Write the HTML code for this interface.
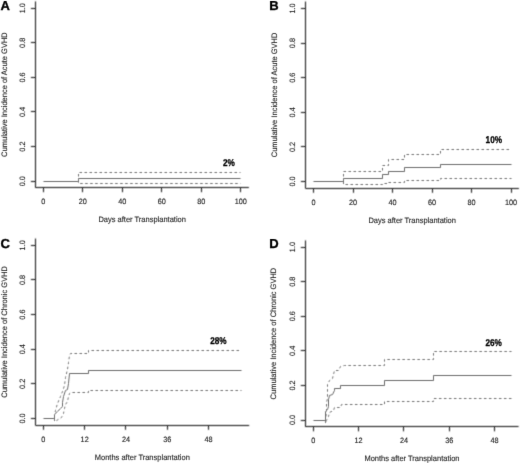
<!DOCTYPE html>
<html><head><meta charset="utf-8"><style>
html,body{margin:0;padding:0;background:#fff;}
body{width:520px;height:463px;overflow:hidden;}
svg{display:block;}
#wrap{width:520px;height:463px;overflow:hidden;}
text{font-family:"Liberation Sans", sans-serif;text-rendering:geometricPrecision;}
</style></head><body><div id="wrap">
<svg width="520" height="463" viewBox="0 0 520 463" font-family='"Liberation Sans", sans-serif' dominant-baseline="central">
<defs>
<filter id="fl" filterUnits="userSpaceOnUse" x="0" y="0" width="520" height="463"><feConvolveMatrix order="3" kernelMatrix="1 2 1 2 8 2 1 2 1" divisor="20.0" edgeMode="none" preserveAlpha="false"/></filter>
<filter id="fc" filterUnits="userSpaceOnUse" x="0" y="0" width="520" height="463"><feConvolveMatrix order="3" kernelMatrix="0 1 0 1 4 1 0 1 0" divisor="8.0" edgeMode="none" preserveAlpha="false"/></filter>
<filter id="ft" filterUnits="userSpaceOnUse" x="0" y="0" width="520" height="463"><feConvolveMatrix order="3" kernelMatrix="0 1 0 1 10 1 0 1 0" divisor="14.0" edgeMode="none" preserveAlpha="false"/></filter>
</defs>
<rect width="520" height="463" fill="#fff"/>
<g filter="url(#fl)">
<line x1="35.5" y1="1.4" x2="35.5" y2="187.7" stroke="#141414" stroke-width="1"/>
<line x1="35.4" y1="187.5" x2="248.9" y2="187.5" stroke="#141414" stroke-width="1"/>
<line x1="30.9" y1="181.5" x2="35.4" y2="181.5" stroke="#141414" stroke-width="1"/>
<line x1="30.9" y1="146.5" x2="35.4" y2="146.5" stroke="#141414" stroke-width="1"/>
<line x1="30.9" y1="111.5" x2="35.4" y2="111.5" stroke="#141414" stroke-width="1"/>
<line x1="30.9" y1="77.5" x2="35.4" y2="77.5" stroke="#141414" stroke-width="1"/>
<line x1="30.9" y1="42.5" x2="35.4" y2="42.5" stroke="#141414" stroke-width="1"/>
<line x1="30.9" y1="8.5" x2="35.4" y2="8.5" stroke="#141414" stroke-width="1"/>
<line x1="43.5" y1="187.7" x2="43.5" y2="192.2" stroke="#141414" stroke-width="1"/>
<line x1="82.5" y1="187.7" x2="82.5" y2="192.2" stroke="#141414" stroke-width="1"/>
<line x1="122.5" y1="187.7" x2="122.5" y2="192.2" stroke="#141414" stroke-width="1"/>
<line x1="161.5" y1="187.7" x2="161.5" y2="192.2" stroke="#141414" stroke-width="1"/>
<line x1="201.5" y1="187.7" x2="201.5" y2="192.2" stroke="#141414" stroke-width="1"/>
<line x1="240.5" y1="187.7" x2="240.5" y2="192.2" stroke="#141414" stroke-width="1"/>
<line x1="305.5" y1="1.5" x2="305.5" y2="188.3" stroke="#141414" stroke-width="1"/>
<line x1="305.4" y1="188.5" x2="518.9" y2="188.5" stroke="#141414" stroke-width="1"/>
<line x1="300.9" y1="181.5" x2="305.4" y2="181.5" stroke="#141414" stroke-width="1"/>
<line x1="300.9" y1="146.5" x2="305.4" y2="146.5" stroke="#141414" stroke-width="1"/>
<line x1="300.9" y1="112.5" x2="305.4" y2="112.5" stroke="#141414" stroke-width="1"/>
<line x1="300.9" y1="77.5" x2="305.4" y2="77.5" stroke="#141414" stroke-width="1"/>
<line x1="300.9" y1="43.5" x2="305.4" y2="43.5" stroke="#141414" stroke-width="1"/>
<line x1="300.9" y1="8.5" x2="305.4" y2="8.5" stroke="#141414" stroke-width="1"/>
<line x1="313.5" y1="188.3" x2="313.5" y2="192.8" stroke="#141414" stroke-width="1"/>
<line x1="353.5" y1="188.3" x2="353.5" y2="192.8" stroke="#141414" stroke-width="1"/>
<line x1="392.5" y1="188.3" x2="392.5" y2="192.8" stroke="#141414" stroke-width="1"/>
<line x1="432.5" y1="188.3" x2="432.5" y2="192.8" stroke="#141414" stroke-width="1"/>
<line x1="471.5" y1="188.3" x2="471.5" y2="192.8" stroke="#141414" stroke-width="1"/>
<line x1="511.5" y1="188.3" x2="511.5" y2="192.8" stroke="#141414" stroke-width="1"/>
<line x1="35.5" y1="238.5" x2="35.5" y2="425.3" stroke="#141414" stroke-width="1"/>
<line x1="35.4" y1="425.5" x2="249.2" y2="425.5" stroke="#141414" stroke-width="1"/>
<line x1="30.9" y1="418.5" x2="35.4" y2="418.5" stroke="#141414" stroke-width="1"/>
<line x1="30.9" y1="383.5" x2="35.4" y2="383.5" stroke="#141414" stroke-width="1"/>
<line x1="30.9" y1="349.5" x2="35.4" y2="349.5" stroke="#141414" stroke-width="1"/>
<line x1="30.9" y1="314.5" x2="35.4" y2="314.5" stroke="#141414" stroke-width="1"/>
<line x1="30.9" y1="279.5" x2="35.4" y2="279.5" stroke="#141414" stroke-width="1"/>
<line x1="30.9" y1="245.5" x2="35.4" y2="245.5" stroke="#141414" stroke-width="1"/>
<line x1="43.5" y1="425.3" x2="43.5" y2="429.8" stroke="#141414" stroke-width="1"/>
<line x1="84.5" y1="425.3" x2="84.5" y2="429.8" stroke="#141414" stroke-width="1"/>
<line x1="125.5" y1="425.3" x2="125.5" y2="429.8" stroke="#141414" stroke-width="1"/>
<line x1="167.5" y1="425.3" x2="167.5" y2="429.8" stroke="#141414" stroke-width="1"/>
<line x1="208.5" y1="425.3" x2="208.5" y2="429.8" stroke="#141414" stroke-width="1"/>
<line x1="305.5" y1="240.4" x2="305.5" y2="426.8" stroke="#141414" stroke-width="1"/>
<line x1="305.3" y1="426.5" x2="518.6" y2="426.5" stroke="#141414" stroke-width="1"/>
<line x1="300.8" y1="420.5" x2="305.3" y2="420.5" stroke="#141414" stroke-width="1"/>
<line x1="300.8" y1="385.5" x2="305.3" y2="385.5" stroke="#141414" stroke-width="1"/>
<line x1="300.8" y1="350.5" x2="305.3" y2="350.5" stroke="#141414" stroke-width="1"/>
<line x1="300.8" y1="316.5" x2="305.3" y2="316.5" stroke="#141414" stroke-width="1"/>
<line x1="300.8" y1="281.5" x2="305.3" y2="281.5" stroke="#141414" stroke-width="1"/>
<line x1="300.8" y1="247.5" x2="305.3" y2="247.5" stroke="#141414" stroke-width="1"/>
<line x1="313.5" y1="426.8" x2="313.5" y2="431.3" stroke="#141414" stroke-width="1"/>
<line x1="358.5" y1="426.8" x2="358.5" y2="431.3" stroke="#141414" stroke-width="1"/>
<line x1="403.5" y1="426.8" x2="403.5" y2="431.3" stroke="#141414" stroke-width="1"/>
<line x1="449.5" y1="426.8" x2="449.5" y2="431.3" stroke="#141414" stroke-width="1"/>
<line x1="494.5" y1="426.8" x2="494.5" y2="431.3" stroke="#141414" stroke-width="1"/>
</g>
<g filter="url(#fc)">
<polyline points="43.50,181.50 78.50,181.50 78.50,178.50 240.50,178.50" fill="none" stroke="#6a6a6a" stroke-width="1"/>
<polyline points="78.50,181.50 78.50,172.50 240.50,172.50" fill="none" stroke="#727272" stroke-width="1" stroke-dasharray="2.5 2.5"/>
<polyline points="78.50,181.50 78.50,183.50 240.50,183.50" fill="none" stroke="#727272" stroke-width="1" stroke-dasharray="2.5 2.5" stroke-dashoffset="1.3"/>
<polyline points="313.50,181.50 343.50,181.50 343.50,178.50 382.50,178.50 382.50,174.50 388.50,174.50 388.50,171.50 404.50,171.50 404.50,167.50 440.50,167.50 440.50,164.50 511.50,164.50" fill="none" stroke="#6a6a6a" stroke-width="1"/>
<polyline points="343.50,181.50 343.50,181.50 343.50,171.50 382.50,171.50 382.50,165.50 388.50,165.50 388.50,159.50 404.50,159.50 404.50,154.50 440.50,154.50 440.50,149.50 511.50,149.50" fill="none" stroke="#727272" stroke-width="1" stroke-dasharray="2.5 2.5"/>
<polyline points="343.50,181.50 343.50,181.50 343.50,184.50 382.50,184.50 382.50,183.50 388.50,183.50 388.50,182.50 404.50,182.50 404.50,180.50 440.50,180.50 440.50,178.50 511.50,178.50" fill="none" stroke="#727272" stroke-width="1" stroke-dasharray="2.5 2.5"/>
<polyline points="43.50,418.50 54.50,418.50 54.50,414.50 57.50,411.50 60.50,408.50 62.50,406.50 62.50,402.50 63.50,396.50 65.50,390.50 67.50,389.50 68.50,383.50 69.50,373.50 88.50,373.50 88.50,370.50 241.50,370.50" fill="none" stroke="#6a6a6a" stroke-width="1"/>
<polyline points="54.50,418.50 54.50,415.50 55.50,410.50 57.50,403.50 60.50,396.50 62.50,391.50 64.50,385.50 65.50,377.50 67.50,369.50 68.50,362.50 69.50,355.50 70.50,353.50 88.50,353.50 88.50,350.50 241.50,350.50" fill="none" stroke="#727272" stroke-width="1" stroke-dasharray="2.5 2.5" stroke-dashoffset="3.6"/>
<polyline points="54.50,418.50 54.50,421.50 56.50,420.50 61.50,417.50 63.50,413.50 64.50,408.50 65.50,404.50 67.50,401.50 68.50,396.50 69.50,393.50 70.50,392.50 88.50,392.50 88.50,390.50 241.50,390.50" fill="none" stroke="#727272" stroke-width="1" stroke-dasharray="2.5 2.5"/>
<polyline points="313.50,420.50 325.50,420.50 325.50,411.50 327.50,409.50 328.50,406.50 328.50,399.50 329.50,395.50 332.50,394.50 334.50,390.50 334.50,388.50 340.50,388.50 340.50,385.50 384.50,385.50 384.50,380.50 433.50,380.50 433.50,375.50 511.50,375.50" fill="none" stroke="#6a6a6a" stroke-width="1"/>
<polyline points="325.50,420.50 326.50,411.50 326.50,402.50 327.50,398.50 327.50,393.50 327.50,384.50 329.50,380.50 332.50,378.50 333.50,374.50 334.50,370.50 338.50,370.50 340.50,366.50 344.50,365.50 384.50,365.50 384.50,359.50 433.50,359.50 433.50,351.50 511.50,351.50" fill="none" stroke="#727272" stroke-width="1" stroke-dasharray="2.5 2.5" stroke-dashoffset="1.0"/>
<polyline points="325.50,420.50 325.50,423.50 326.50,420.50 328.50,416.50 329.50,412.50 333.50,410.50 334.50,407.50 340.50,407.50 341.50,404.50 384.50,404.50 384.50,401.50 433.50,401.50 433.50,398.50 511.50,398.50" fill="none" stroke="#727272" stroke-width="1" stroke-dasharray="2.5 2.5"/>
</g>
<g filter="url(#ft)">
<text transform="translate(22.10 181.20) rotate(-90) scale(1 1.06)" font-size="7.3" text-anchor="middle" font-weight="normal" fill="#262626" stroke="#262626" stroke-width="0.12">0.0</text>
<text transform="translate(22.10 146.60) rotate(-90) scale(1 1.06)" font-size="7.3" text-anchor="middle" font-weight="normal" fill="#262626" stroke="#262626" stroke-width="0.12">0.2</text>
<text transform="translate(22.10 112.00) rotate(-90) scale(1 1.06)" font-size="7.3" text-anchor="middle" font-weight="normal" fill="#262626" stroke="#262626" stroke-width="0.12">0.4</text>
<text transform="translate(22.10 77.40) rotate(-90) scale(1 1.06)" font-size="7.3" text-anchor="middle" font-weight="normal" fill="#262626" stroke="#262626" stroke-width="0.12">0.6</text>
<text transform="translate(22.10 42.80) rotate(-90) scale(1 1.06)" font-size="7.3" text-anchor="middle" font-weight="normal" fill="#262626" stroke="#262626" stroke-width="0.12">0.8</text>
<text transform="translate(22.10 8.20) rotate(-90) scale(1 1.06)" font-size="7.3" text-anchor="middle" font-weight="normal" fill="#262626" stroke="#262626" stroke-width="0.12">1.0</text>
<text transform="translate(43.30 201.30) scale(1 1.06)" font-size="7.3" text-anchor="middle" font-weight="normal" fill="#262626" stroke="#262626" stroke-width="0.12">0</text>
<text transform="translate(82.80 201.30) scale(1 1.06)" font-size="7.3" text-anchor="middle" font-weight="normal" fill="#262626" stroke="#262626" stroke-width="0.12">20</text>
<text transform="translate(122.30 201.30) scale(1 1.06)" font-size="7.3" text-anchor="middle" font-weight="normal" fill="#262626" stroke="#262626" stroke-width="0.12">40</text>
<text transform="translate(161.80 201.30) scale(1 1.06)" font-size="7.3" text-anchor="middle" font-weight="normal" fill="#262626" stroke="#262626" stroke-width="0.12">60</text>
<text transform="translate(201.30 201.30) scale(1 1.06)" font-size="7.3" text-anchor="middle" font-weight="normal" fill="#262626" stroke="#262626" stroke-width="0.12">80</text>
<text transform="translate(240.80 201.30) scale(1 1.06)" font-size="7.3" text-anchor="middle" font-weight="normal" fill="#262626" stroke="#262626" stroke-width="0.12">100</text>
<text transform="translate(142.15 219.70) scale(1 1.06)" font-size="7.5" text-anchor="middle" font-weight="normal" fill="#262626" stroke="#262626" stroke-width="0.12">Days after Transplantation</text>
<text transform="translate(3.90 94.55) rotate(-90) scale(1 1.06)" font-size="7.5" text-anchor="middle" font-weight="normal" fill="#262626" stroke="#262626" stroke-width="0.12">Cumulative Incidence of Acute GVHD</text>
<text x="0.6" y="10.1" font-size="13.0" font-weight="bold" fill="#000" stroke="#000" stroke-width="0.35" dominant-baseline="alphabetic">A</text>
<text transform="translate(228.80 163.00) scale(1 1.2)" font-size="8.2" text-anchor="middle" font-weight="bold" fill="#000" stroke="#000" stroke-width="0.25">2%</text>
<text transform="translate(292.10 181.50) rotate(-90) scale(1 1.06)" font-size="7.3" text-anchor="middle" font-weight="normal" fill="#262626" stroke="#262626" stroke-width="0.12">0.0</text>
<text transform="translate(292.10 146.90) rotate(-90) scale(1 1.06)" font-size="7.3" text-anchor="middle" font-weight="normal" fill="#262626" stroke="#262626" stroke-width="0.12">0.2</text>
<text transform="translate(292.10 112.30) rotate(-90) scale(1 1.06)" font-size="7.3" text-anchor="middle" font-weight="normal" fill="#262626" stroke="#262626" stroke-width="0.12">0.4</text>
<text transform="translate(292.10 77.70) rotate(-90) scale(1 1.06)" font-size="7.3" text-anchor="middle" font-weight="normal" fill="#262626" stroke="#262626" stroke-width="0.12">0.6</text>
<text transform="translate(292.10 43.10) rotate(-90) scale(1 1.06)" font-size="7.3" text-anchor="middle" font-weight="normal" fill="#262626" stroke="#262626" stroke-width="0.12">0.8</text>
<text transform="translate(292.10 8.50) rotate(-90) scale(1 1.06)" font-size="7.3" text-anchor="middle" font-weight="normal" fill="#262626" stroke="#262626" stroke-width="0.12">1.0</text>
<text transform="translate(313.60 201.90) scale(1 1.06)" font-size="7.3" text-anchor="middle" font-weight="normal" fill="#262626" stroke="#262626" stroke-width="0.12">0</text>
<text transform="translate(353.10 201.90) scale(1 1.06)" font-size="7.3" text-anchor="middle" font-weight="normal" fill="#262626" stroke="#262626" stroke-width="0.12">20</text>
<text transform="translate(392.60 201.90) scale(1 1.06)" font-size="7.3" text-anchor="middle" font-weight="normal" fill="#262626" stroke="#262626" stroke-width="0.12">40</text>
<text transform="translate(432.10 201.90) scale(1 1.06)" font-size="7.3" text-anchor="middle" font-weight="normal" fill="#262626" stroke="#262626" stroke-width="0.12">60</text>
<text transform="translate(471.60 201.90) scale(1 1.06)" font-size="7.3" text-anchor="middle" font-weight="normal" fill="#262626" stroke="#262626" stroke-width="0.12">80</text>
<text transform="translate(511.10 201.90) scale(1 1.06)" font-size="7.3" text-anchor="middle" font-weight="normal" fill="#262626" stroke="#262626" stroke-width="0.12">100</text>
<text transform="translate(412.15 220.30) scale(1 1.06)" font-size="7.5" text-anchor="middle" font-weight="normal" fill="#262626" stroke="#262626" stroke-width="0.12">Days after Transplantation</text>
<text transform="translate(273.90 94.90) rotate(-90) scale(1 1.06)" font-size="7.5" text-anchor="middle" font-weight="normal" fill="#262626" stroke="#262626" stroke-width="0.12">Cumulative Incidence of Acute GVHD</text>
<text x="269.2" y="10.3" font-size="13.0" font-weight="bold" fill="#000" stroke="#000" stroke-width="0.35" dominant-baseline="alphabetic">B</text>
<text transform="translate(493.80 139.80) scale(1 1.2)" font-size="8.2" text-anchor="middle" font-weight="bold" fill="#000" stroke="#000" stroke-width="0.25">10%</text>
<text transform="translate(22.10 418.50) rotate(-90) scale(1 1.06)" font-size="7.3" text-anchor="middle" font-weight="normal" fill="#262626" stroke="#262626" stroke-width="0.12">0.0</text>
<text transform="translate(22.10 383.86) rotate(-90) scale(1 1.06)" font-size="7.3" text-anchor="middle" font-weight="normal" fill="#262626" stroke="#262626" stroke-width="0.12">0.2</text>
<text transform="translate(22.10 349.22) rotate(-90) scale(1 1.06)" font-size="7.3" text-anchor="middle" font-weight="normal" fill="#262626" stroke="#262626" stroke-width="0.12">0.4</text>
<text transform="translate(22.10 314.58) rotate(-90) scale(1 1.06)" font-size="7.3" text-anchor="middle" font-weight="normal" fill="#262626" stroke="#262626" stroke-width="0.12">0.6</text>
<text transform="translate(22.10 279.94) rotate(-90) scale(1 1.06)" font-size="7.3" text-anchor="middle" font-weight="normal" fill="#262626" stroke="#262626" stroke-width="0.12">0.8</text>
<text transform="translate(22.10 245.30) rotate(-90) scale(1 1.06)" font-size="7.3" text-anchor="middle" font-weight="normal" fill="#262626" stroke="#262626" stroke-width="0.12">1.0</text>
<text transform="translate(43.40 438.90) scale(1 1.06)" font-size="7.3" text-anchor="middle" font-weight="normal" fill="#262626" stroke="#262626" stroke-width="0.12">0</text>
<text transform="translate(84.68 438.90) scale(1 1.06)" font-size="7.3" text-anchor="middle" font-weight="normal" fill="#262626" stroke="#262626" stroke-width="0.12">12</text>
<text transform="translate(125.96 438.90) scale(1 1.06)" font-size="7.3" text-anchor="middle" font-weight="normal" fill="#262626" stroke="#262626" stroke-width="0.12">24</text>
<text transform="translate(167.24 438.90) scale(1 1.06)" font-size="7.3" text-anchor="middle" font-weight="normal" fill="#262626" stroke="#262626" stroke-width="0.12">36</text>
<text transform="translate(208.52 438.90) scale(1 1.06)" font-size="7.3" text-anchor="middle" font-weight="normal" fill="#262626" stroke="#262626" stroke-width="0.12">48</text>
<text transform="translate(142.30 457.30) scale(1 1.06)" font-size="7.5" text-anchor="middle" font-weight="normal" fill="#262626" stroke="#262626" stroke-width="0.12">Months after Transplantation</text>
<text transform="translate(3.90 331.90) rotate(-90) scale(1 1.06)" font-size="7.5" text-anchor="middle" font-weight="normal" fill="#262626" stroke="#262626" stroke-width="0.12">Cumulative Incidence of Chronic GVHD</text>
<text x="0.6" y="248.0" font-size="13.0" font-weight="bold" fill="#000" stroke="#000" stroke-width="0.35" dominant-baseline="alphabetic">C</text>
<text transform="translate(218.40 341.20) scale(1 1.2)" font-size="8.2" text-anchor="middle" font-weight="bold" fill="#000" stroke="#000" stroke-width="0.25">28%</text>
<text transform="translate(292.00 420.00) rotate(-90) scale(1 1.06)" font-size="7.3" text-anchor="middle" font-weight="normal" fill="#262626" stroke="#262626" stroke-width="0.12">0.0</text>
<text transform="translate(292.00 385.42) rotate(-90) scale(1 1.06)" font-size="7.3" text-anchor="middle" font-weight="normal" fill="#262626" stroke="#262626" stroke-width="0.12">0.2</text>
<text transform="translate(292.00 350.84) rotate(-90) scale(1 1.06)" font-size="7.3" text-anchor="middle" font-weight="normal" fill="#262626" stroke="#262626" stroke-width="0.12">0.4</text>
<text transform="translate(292.00 316.26) rotate(-90) scale(1 1.06)" font-size="7.3" text-anchor="middle" font-weight="normal" fill="#262626" stroke="#262626" stroke-width="0.12">0.6</text>
<text transform="translate(292.00 281.68) rotate(-90) scale(1 1.06)" font-size="7.3" text-anchor="middle" font-weight="normal" fill="#262626" stroke="#262626" stroke-width="0.12">0.8</text>
<text transform="translate(292.00 247.10) rotate(-90) scale(1 1.06)" font-size="7.3" text-anchor="middle" font-weight="normal" fill="#262626" stroke="#262626" stroke-width="0.12">1.0</text>
<text transform="translate(313.30 440.40) scale(1 1.06)" font-size="7.3" text-anchor="middle" font-weight="normal" fill="#262626" stroke="#262626" stroke-width="0.12">0</text>
<text transform="translate(358.62 440.40) scale(1 1.06)" font-size="7.3" text-anchor="middle" font-weight="normal" fill="#262626" stroke="#262626" stroke-width="0.12">12</text>
<text transform="translate(403.95 440.40) scale(1 1.06)" font-size="7.3" text-anchor="middle" font-weight="normal" fill="#262626" stroke="#262626" stroke-width="0.12">24</text>
<text transform="translate(449.27 440.40) scale(1 1.06)" font-size="7.3" text-anchor="middle" font-weight="normal" fill="#262626" stroke="#262626" stroke-width="0.12">36</text>
<text transform="translate(494.60 440.40) scale(1 1.06)" font-size="7.3" text-anchor="middle" font-weight="normal" fill="#262626" stroke="#262626" stroke-width="0.12">48</text>
<text transform="translate(411.95 458.80) scale(1 1.06)" font-size="7.5" text-anchor="middle" font-weight="normal" fill="#262626" stroke="#262626" stroke-width="0.12">Months after Transplantation</text>
<text transform="translate(273.80 333.60) rotate(-90) scale(1 1.06)" font-size="7.5" text-anchor="middle" font-weight="normal" fill="#262626" stroke="#262626" stroke-width="0.12">Cumulative Incidence of Chronic GVHD</text>
<text x="269.2" y="247.5" font-size="13.0" font-weight="bold" fill="#000" stroke="#000" stroke-width="0.35" dominant-baseline="alphabetic">D</text>
<text transform="translate(493.60 342.60) scale(1 1.2)" font-size="8.2" text-anchor="middle" font-weight="bold" fill="#000" stroke="#000" stroke-width="0.25">26%</text>
</g>
</svg>
</div></body></html>
